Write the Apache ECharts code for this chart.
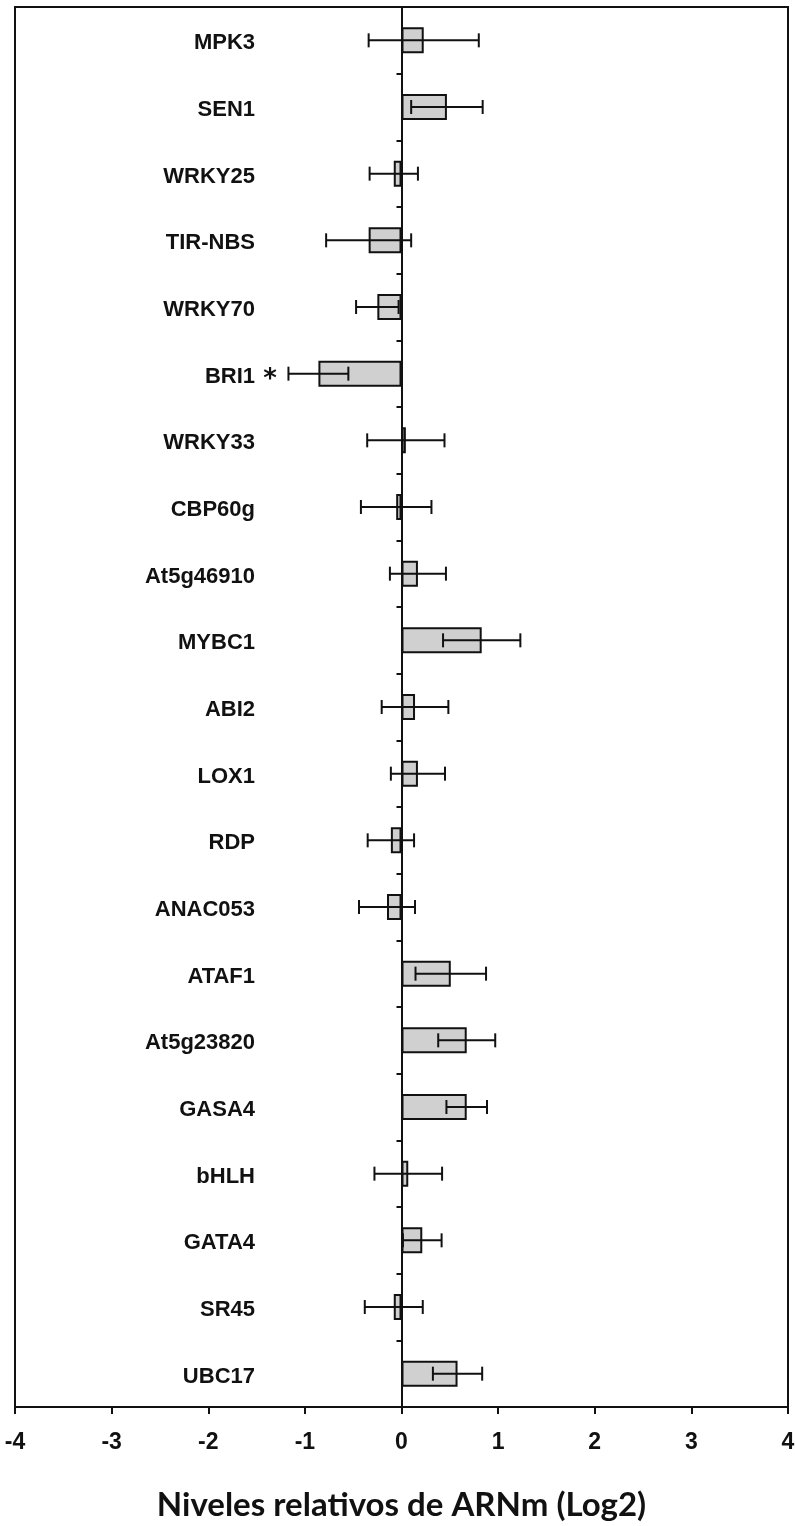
<!DOCTYPE html>
<html>
<head>
<meta charset="utf-8">
<script src="https://cdn.jsdelivr.net/npm/echarts@6/dist/echarts.min.js"></script>
<style>
html,body{margin:0;padding:0;background:#fff;}
#chart{width:795px;height:1526px;}
</style>
</head>
<body>
<div id="chart"></div>
<script>
const genes = ['MPK3','SEN1','WRKY25','TIR-NBS','WRKY70','BRI1','WRKY33','CBP60g','At5g46910','MYBC1','ABI2','LOX1','RDP','ANAC053','ATAF1','At5g23820','GASA4','bHLH','GATA4','SR45','UBC17'];
const meanLog2 = [0.23,0.47,-0.08,-0.34,-0.25,-0.86,0.045,-0.055,0.17,0.83,0.14,0.17,-0.11,-0.15,0.51,0.675,0.675,0.07,0.215,-0.08,0.58];
const errLog2 = [0.57,0.37,0.25,0.44,0.22,0.31,0.40,0.365,0.29,0.40,0.345,0.28,0.24,0.29,0.365,0.295,0.21,0.35,0.20,0.30,0.255];
const significant = ['BRI1'];
const xTicks = [-4,-3,-2,-1,0,1,2,3,4];
const xTitle = 'Niveles relativos de ARNm (Log2)';

const chart = echarts.init(document.getElementById('chart'), null, {renderer:'canvas'});
const labelFont = "'Liberation Sans Narrow','Liberation Sans',Arial,sans-serif";

const errData = genes.map((g,i)=>[i, meanLog2[i]-errLog2[i], meanLog2[i]+errLog2[i]]);

chart.setOption({
  animation:false,
  backgroundColor:'#fff',
  grid:{left:15,right:7,top:7,bottom:119,containLabel:false,outerBoundsMode:'none',show:true,borderColor:'#111',borderWidth:2,backgroundColor:'transparent'},
  xAxis:{
    type:'value', min:xTicks[0], max:xTicks[xTicks.length-1], interval:1,
    axisLine:{show:true,onZero:false,lineStyle:{color:'#111',width:2}},
    axisTick:{show:true,length:7,lineStyle:{color:'#111',width:2}},
    splitLine:{show:false},
    axisLabel:{color:'#111',fontFamily:labelFont,fontWeight:'bold',fontSize:23,margin:24},
    name:xTitle, nameLocation:'middle', nameGap:82,
    nameTextStyle:{color:'#111',fontFamily:"Lato,'Open Sans',sans-serif",fontWeight:'bold',fontSize:33}
  },
  yAxis:{
    type:'category', data:genes, inverse:true,
    axisLine:{show:true,onZero:true,lineStyle:{color:'#111',width:2}},
    axisTick:{show:true,length:5,lineStyle:{color:'#111',width:2}},
    axisLabel:{
      margin:-270, color:'#111', fontFamily:labelFont, fontWeight:'bold', fontSize:22,
      formatter:function(v){ return significant.indexOf(v)>=0 ? '{n|'+v+'}{s|*}' : '{n|'+v+'}{p|}'; },
      rich:{
        n:{fontFamily:labelFont,fontWeight:'bold',fontSize:22,color:'#111',padding:[6,0,0,0]},
        s:{fontFamily:"'DejaVu Sans',sans-serif",fontSize:26,color:'#111',width:30,align:'center',padding:[14,0,0,0]},
        p:{width:30}
      }
    }
  },
  series:[
    {
      type:'bar', data:meanLog2, barWidth:26,
      itemStyle:{color:'#d0d0d0',borderColor:'#111',borderWidth:2},
      z:2
    },
    {
      type:'custom', data:errData, z:3,
      renderItem:function(params,api){
        const y = api.coord([0,api.value(0)])[1];
        const x1 = api.coord([api.value(1),api.value(0)])[0];
        const x2 = api.coord([api.value(2),api.value(0)])[0];
        const h = 7;
        const st = {stroke:'#111',lineWidth:2};
        return {type:'group',children:[
          {type:'line',shape:{x1:x1,y1:y,x2:x2,y2:y},style:st},
          {type:'line',shape:{x1:x1,y1:y-h,x2:x1,y2:y+h},style:st},
          {type:'line',shape:{x1:x2,y1:y-h,x2:x2,y2:y+h},style:st}
        ]};
      },
      encode:{x:[1,2],y:0}
    }
  ]
});
</script>
</body>
</html>
